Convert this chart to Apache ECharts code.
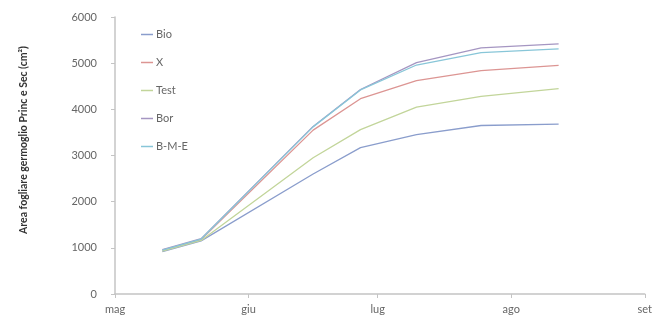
<!DOCTYPE html>
<html>
<head>
<meta charset="utf-8">
<script src="https://cdn.jsdelivr.net/npm/echarts@6/dist/echarts.min.js"></script>
<style>
  html, body { margin: 0; padding: 0; background: #fff; }
  #chart { width: 655px; height: 325px; }
</style>
</head>
<body>
<div id="chart"></div>
<script>
// Sampling dates and leaf area (cm²) per treatment
const sampleDates = ['2011-05-12', '2011-05-21', '2011-06-16', '2011-06-27', '2011-07-10', '2011-07-25', '2011-08-12'];
const seriesNames = ['Bio', 'X', 'Test', 'Bor', 'B-M-E'];
const bio  = [920, 1150, 2600, 3170, 3450, 3650, 3680];
const xTr  = [950, 1180, 3550, 4230, 4620, 4840, 4950];
const test = [930, 1160, 2950, 3560, 4050, 4280, 4450];
const bor  = [960, 1200, 3630, 4430, 5010, 5330, 5420];
const bme  = [950, 1190, 3620, 4420, 4960, 5230, 5310];
const monthTicks = ['2011-05-01', '2011-06-01', '2011-07-01', '2011-08-01', '2011-09-01'];
const monthLabels = ['mag', 'giu', 'lug', 'ago', 'set'];
const yTicks = [0, 1000, 2000, 3000, 4000, 5000, 6000];

const colors = ['#8a9dcc', '#dc9593', '#c2d59a', '#a596c2', '#88c6d8'];
const values = [bio, xTr, test, bor, bme];

// x axis runs in days counted from the first month tick
const DAY = 86400000;
const origin = new Date(monthTicks[0] + 'T00:00:00Z').getTime();
const dayOf = s => Math.round((new Date(s + 'T00:00:00Z').getTime() - origin) / DAY);
const tickDays = monthTicks.map(dayOf);

const chart = echarts.init(document.getElementById('chart'), null, { renderer: 'canvas' });
const font = 'Lato, "Open Sans", sans-serif';

chart.setOption({
  animation: false,
  backgroundColor: '#ffffff',
  textStyle: { fontFamily: font },
  grid: { left: 115, right: 8, top: 17, bottom: 31, containLabel: false },
  legend: {
    orient: 'vertical',
    left: 136,
    top: 24,
    itemGap: 17,
    itemWidth: 12,
    itemHeight: 1.5,
    icon: 'rect',
    data: seriesNames,
    textStyle: { color: '#666', fontSize: 11, fontFamily: font, padding: [0, 0, 0, -2] }
  },
  xAxis: {
    type: 'value',
    min: tickDays[0],
    max: tickDays[tickDays.length - 1],
    axisLine: { show: true, onZero: false, lineStyle: { color: '#c4c4c4', width: 1.5 } },
    axisTick: { show: true, length: 4, lineStyle: { color: '#c4c4c4' }, customValues: tickDays },
    axisLabel: {
      color: '#666', fontSize: 11, fontFamily: font, margin: 10,
      customValues: tickDays,
      formatter: v => {
        const i = tickDays.indexOf(v);
        return i >= 0 ? monthLabels[i] : '';
      }
    },
    splitLine: { show: false }
  },
  yAxis: {
    type: 'value',
    min: yTicks[0],
    max: yTicks[yTicks.length - 1],
    interval: 1000,
    axisLine: { show: true, lineStyle: { color: '#c4c4c4', width: 1.5 } },
    axisTick: { show: true, length: 4, lineStyle: { color: '#c4c4c4' } },
    axisLabel: { color: '#666', fontSize: 11, fontFamily: font, margin: 18, formatter: v => String(v) },
    splitLine: { show: false }
  },
  graphic: [{
    type: 'text',
    x: 24,
    y: 140,
    rotation: Math.PI / 2,
    style: {
      text: 'Area fogliare germoglio Princ e Sec (cm²)',
      fill: '#333',
      font: 'bold 10.5px ' + font,
      textAlign: 'center',
      textVerticalAlign: 'middle'
    }
  }],
  series: seriesNames.map((name, i) => ({
    name,
    type: 'line',
    symbol: 'none',
    color: colors[i],
    lineStyle: { width: 1.3, color: colors[i] },
    data: sampleDates.map((d, j) => [dayOf(d), values[i][j]])
  }))
});
</script>
</body>
</html>
